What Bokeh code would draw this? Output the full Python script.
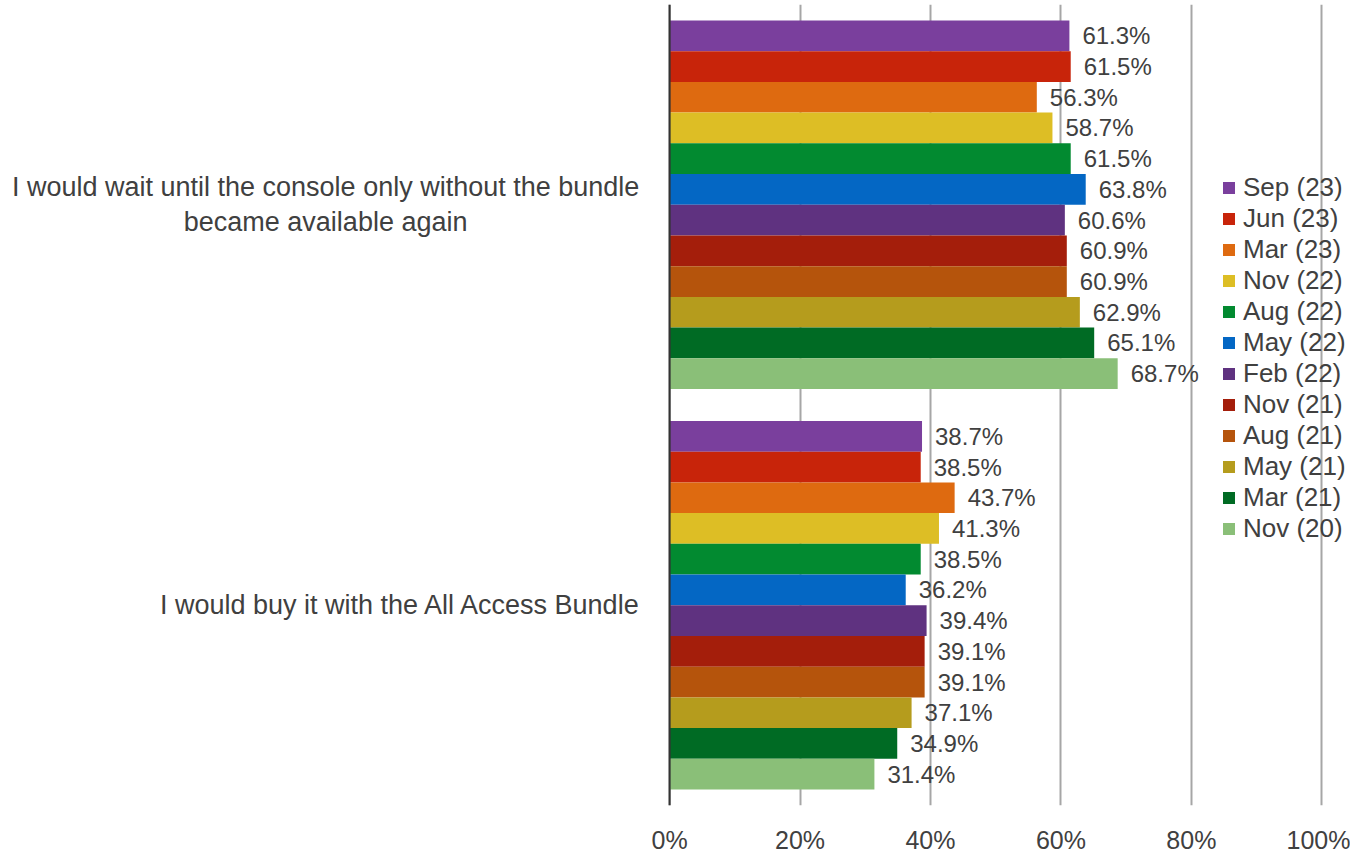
from bokeh.plotting import figure
from bokeh.models import (ColumnDataSource, FactorRange, Range1d, Legend, LegendItem,
                          FixedTicker, PrintfTickFormatter, Span)
from bokeh.transform import dodge
from bokeh.core.properties import value
from bokeh.embed import file_html
from bokeh.resources import INLINE

# ---------------- data ----------------
categories = [
    "I would buy it with the All Access Bundle",
    "I would wait until the console only without the bundle became available again",
]
category_labels = [
    "I would buy it with the All Access Bundle",
    "I would wait until the console only without the bundle\nbecame available again",
]
series = ["Sep (23)", "Jun (23)", "Mar (23)", "Nov (22)", "Aug (22)", "May (22)",
          "Feb (22)", "Nov (21)", "Aug (21)", "May (21)", "Mar (21)", "Nov (20)"]
buy_values = [38.7, 38.5, 43.7, 41.3, 38.5, 36.2, 39.4, 39.1, 39.1, 37.1, 34.9, 31.4]
wait_values = [61.3, 61.5, 56.3, 58.7, 61.5, 63.8, 60.6, 60.9, 60.9, 62.9, 65.1, 68.7]
colors = ["#7A3F9D", "#C8240A", "#DE6A10", "#DDBE25", "#028A30", "#0467C4",
          "#5F3280", "#A41E0B", "#B5540C", "#B59C1D", "#006B24", "#8ABF78"]
x_ticks = [0, 20, 40, 60, 80, 100]

FONT = "Liberation Sans"
TEXT = "#404040"

p = figure(width=1350, height=856, output_backend="svg", toolbar_location=None,
           y_range=FactorRange(factors=categories, range_padding=0),
           x_range=Range1d(-102.6, 104.4),
           min_border_left=0, min_border_right=0, min_border_top=4, min_border_bottom=48)

bar_h = 0.0767
legend_items = []
for i, (name, col) in enumerate(zip(series, colors)):
    off = (5.5 - i) * bar_h
    vals = [buy_values[i], wait_values[i]]
    src = ColumnDataSource(dict(cat=categories, val=vals,
                                lab=[f"{v:.1f}%" for v in vals]))
    r = p.hbar(y=dodge("cat", off, range=p.y_range), left=0, right="val", height=bar_h,
               source=src, fill_color=col, line_color=None)
    p.text(x="val", y=dodge("cat", off, range=p.y_range), text="lab", source=src,
           x_offset=13, text_baseline="middle", text_align="left",
           text_font=value(FONT), text_font_size="24px", text_color=TEXT)
    legend_items.append(LegendItem(label=name, renderers=[r]))

# category labels (left of the value axis)
src_buy = ColumnDataSource(dict(cat=[categories[0]], x=[0], lab=[category_labels[0]]))
src_wait = ColumnDataSource(dict(cat=[categories[1]], x=[0], lab=[category_labels[1]]))
p.text(x="x", y="cat", text="lab", source=src_buy, x_offset=-28,
       text_align="right", text_baseline="middle",
       text_font=value(FONT), text_font_size="27px", text_color=TEXT)
p.text(x="x", y="cat", text="lab", source=src_wait, x_offset=-344,
       text_align="center", text_baseline="middle", text_line_height=1.17,
       text_font=value(FONT), text_font_size="27px", text_color=TEXT)

p.add_layout(Span(location=0, dimension="height", line_color="#333333", line_width=2))

legend = Legend(items=legend_items, location=(1221, 261), padding=0, margin=0,
                spacing=0, glyph_width=15, glyph_height=15, label_height=29,
                label_standoff=7, border_line_alpha=0, background_fill_alpha=0,
                label_text_font=FONT, label_text_font_size="26px", label_text_color=TEXT)
p.add_layout(legend)

p.outline_line_color = None
p.ygrid.grid_line_color = None
p.xgrid.ticker = FixedTicker(ticks=x_ticks)
p.xgrid.grid_line_color = "#A6A6A6"
p.xgrid.grid_line_width = 2

p.xaxis.ticker = FixedTicker(ticks=x_ticks)
p.xaxis.formatter = PrintfTickFormatter(format="%d%%")
p.xaxis.axis_line_color = None
p.xaxis.major_tick_line_color = None
p.xaxis.minor_tick_line_color = None
p.xaxis.major_label_standoff = 14
p.xaxis.major_label_text_font = FONT
p.xaxis.major_label_text_font_size = "25px"
p.xaxis.major_label_text_color = TEXT

p.yaxis.visible = False

open("out.html", "w").write(file_html(p, INLINE))
